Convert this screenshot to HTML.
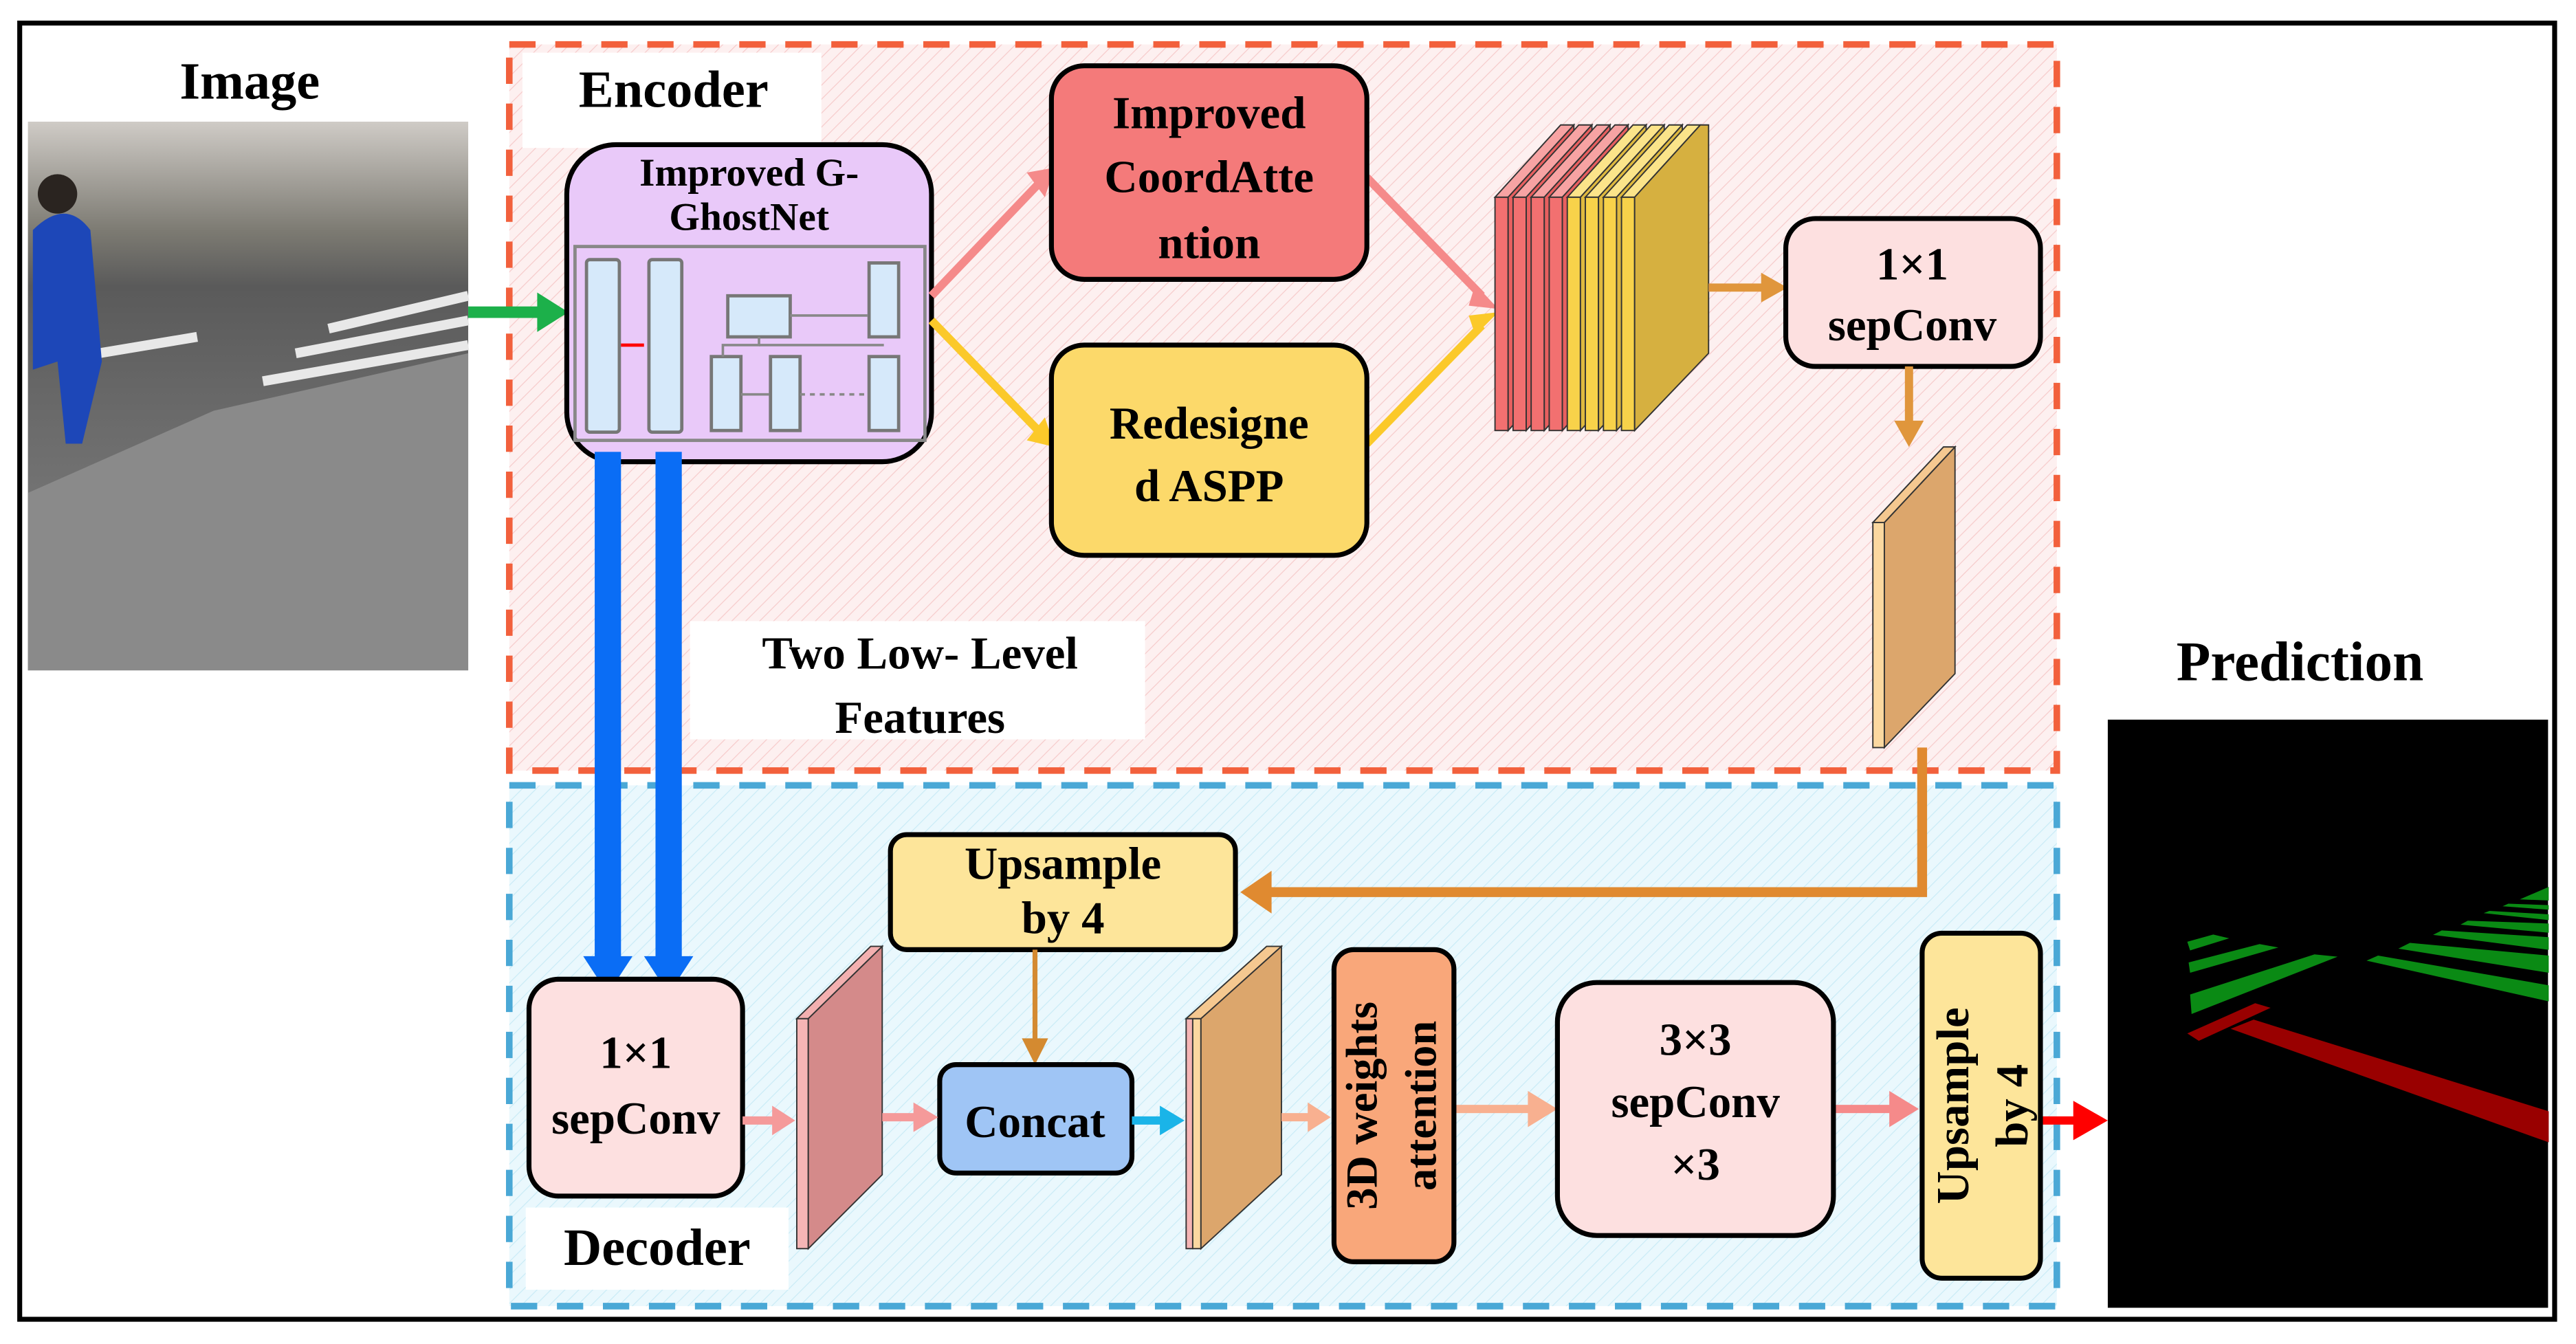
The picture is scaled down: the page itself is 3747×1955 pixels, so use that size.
<!DOCTYPE html>
<html><head><meta charset="utf-8"><style>html,body{margin:0;padding:0;background:#fff}svg{display:block}</style></head>
<body>
<svg width="3747" height="1955" viewBox="0 0 1568 818" xmlns="http://www.w3.org/2000/svg" font-family="'Liberation Serif',serif" font-weight="bold">
<defs>
<pattern id="hp" width="6" height="6" patternUnits="userSpaceOnUse" patternTransform="rotate(45)"><rect width="6" height="6" fill="#fdf0f0"/><line x1="0" y1="0" x2="0" y2="6" stroke="#f6caca" stroke-width="1"/></pattern>
<pattern id="hb" width="6" height="6" patternUnits="userSpaceOnUse" patternTransform="rotate(45)"><rect width="6" height="6" fill="#eaf8fd"/><line x1="0" y1="0" x2="0" y2="6" stroke="#c9ebf6" stroke-width="1"/></pattern>
<linearGradient id="ph" x1="0" y1="0" x2="0" y2="1"><stop offset="0" stop-color="#cfcbc6"/><stop offset="0.2" stop-color="#7c7a72"/><stop offset="0.3" stop-color="#5a5a5a"/><stop offset="0.55" stop-color="#6b6b6b"/><stop offset="1" stop-color="#858585"/></linearGradient>
</defs>
<rect x="12" y="14" width="1543" height="789" fill="#fff" stroke="#000" stroke-width="3"/>
<!-- photo -->
<rect x="17" y="74" width="268" height="334" fill="url(#ph)"/>
<polygon points="130,250 285,215 285,408 17,408 17,300" fill="#8a8a8a"/>
<g stroke="#e8e8e8" stroke-width="6"><line x1="200" y1="200" x2="285" y2="180"/><line x1="180" y1="215" x2="285" y2="195"/><line x1="160" y1="232" x2="285" y2="210"/><line x1="60" y1="215" x2="120" y2="205"/></g>
<path d="M20,140 Q40,120 55,140 L62,220 L50,270 L40,270 L35,220 L20,225 Z" fill="#1d47b8"/>
<circle cx="35" cy="118" r="12" fill="#2a2420"/>
<text x="152" y="60" font-size="32" text-anchor="middle">Image</text>
<!-- encoder -->
<rect x="310" y="27" width="942" height="442" fill="url(#hp)" stroke="#f2603c" stroke-width="4" stroke-dasharray="16,12"/>
<rect x="318" y="32" width="182" height="58" fill="#fff"/>
<text x="410" y="65" font-size="32" text-anchor="middle">Encoder</text>
<!-- decoder -->
<rect x="310" y="478" width="942" height="317" fill="url(#hb)" stroke="#4aa8d6" stroke-width="4" stroke-dasharray="16,12"/>
<rect x="320" y="735" width="160" height="50" fill="#fff"/>
<text x="400" y="770" font-size="32" text-anchor="middle">Decoder</text>
<rect x="420" y="378" width="277" height="72" fill="#fff"/>
<text x="560" y="407" font-size="28" text-anchor="middle">Two Low- Level</text>
<text x="560" y="446" font-size="28" text-anchor="middle">Features</text>
<!-- green arrow -->
<line x1="285" y1="190" x2="330" y2="190" stroke="#1cb04a" stroke-width="7"/>
<polygon points="327,178 346,190 327,202" fill="#1cb04a"/>
<!-- ghostnet -->
<rect x="345" y="88" width="222" height="193" rx="30" fill="#e9c9f9" stroke="#000" stroke-width="3"/>
<text x="456" y="113" font-size="24" text-anchor="middle">Improved G-</text>
<text x="456" y="140" font-size="24" text-anchor="middle">GhostNet</text>
<rect x="350" y="150" width="213" height="118" fill="none" stroke="#888" stroke-width="2"/>
<g fill="#d6e9fa" stroke="#777" stroke-width="2">
<rect x="357" y="158" width="20" height="105" rx="2"/><rect x="395" y="158" width="20" height="105" rx="2"/>
<rect x="443" y="180" width="38" height="25"/><rect x="529" y="160" width="18" height="45"/>
<rect x="433" y="217" width="18" height="45"/><rect x="469" y="217" width="18" height="45"/><rect x="529" y="217" width="18" height="45"/>
</g>
<g stroke="#888" stroke-width="1.5" fill="none"><line x1="481" y1="192" x2="528" y2="192"/><polyline points="462,205 462,210 440,210 440,217"/><line x1="462" y1="210" x2="538" y2="210"/><line x1="451" y1="240" x2="468" y2="240"/><line x1="487" y1="240" x2="528" y2="240" stroke-dasharray="3,3"/></g>
<line x1="378" y1="210" x2="392" y2="210" stroke="#f00" stroke-width="2"/>
<!-- blue arrows -->
<g fill="#0a6df5"><rect x="362" y="275" width="16" height="310"/><rect x="399" y="275" width="16" height="310"/>
<polygon points="355,582 385,582 370,605"/><polygon points="392,582 422,582 407,605"/></g>
<!-- branch arrows -->
<g stroke-width="5"><line x1="567" y1="180" x2="632" y2="112" stroke="#f58a8a"/><line x1="567" y1="195" x2="632" y2="262" stroke="#fbc92a"/>
<line x1="832" y1="108" x2="902" y2="180" stroke="#f58a8a"/><line x1="832" y1="270" x2="902" y2="198" stroke="#fbc92a"/></g>
<polygon points="625,105 642,102 636,120" fill="#f58a8a"/><polygon points="625,268 642,272 636,254" fill="#fbc92a"/>
<polygon points="898,173 912,188 894,186" fill="#f58a8a"/><polygon points="898,204 912,190 894,192" fill="#fbc92a"/>
<rect x="640" y="40" width="192" height="130" rx="20" fill="#f47a7a" stroke="#000" stroke-width="3"/>
<text x="736" y="78" font-size="28" text-anchor="middle">Improved</text>
<text x="736" y="117" font-size="28" text-anchor="middle">CoordAtte</text>
<text x="736" y="157" font-size="28" text-anchor="middle">ntion</text>
<rect x="640" y="210" width="192" height="128" rx="20" fill="#fcd96a" stroke="#000" stroke-width="3"/>
<text x="736" y="267" font-size="28" text-anchor="middle">Redesigne</text>
<text x="736" y="305" font-size="28" text-anchor="middle">d ASPP</text>
<!-- feature stack -->
<g stroke="#333" stroke-width="0.8">
<polygon points="910,120 950,76 958,76 918,120" fill="#f7a3a3"/><rect x="910" y="120" width="8" height="142" fill="#f27070"/><polygon points="918,120 958,76 958,218 918,262" fill="#e85f5f"/>
<polygon points="921,120 961,76 969,76 929,120" fill="#f7a3a3"/><rect x="921" y="120" width="8" height="142" fill="#f27070"/><polygon points="929,120 969,76 969,218 929,262" fill="#e85f5f"/>
<polygon points="932,120 972,76 980,76 940,120" fill="#f7a3a3"/><rect x="932" y="120" width="8" height="142" fill="#f27070"/><polygon points="940,120 980,76 980,218 940,262" fill="#e85f5f"/>
<polygon points="943,120 983,76 991,76 951,120" fill="#f7a3a3"/><rect x="943" y="120" width="8" height="142" fill="#f27070"/><polygon points="951,120 991,76 991,218 951,262" fill="#e85f5f"/>
<polygon points="954,120 994,76 1002,76 962,120" fill="#fbe48a"/><rect x="954" y="120" width="8" height="142" fill="#f8d24a"/><polygon points="962,120 1002,76 1002,218 962,262" fill="#dfb93f"/>
<polygon points="965,120 1005,76 1013,76 973,120" fill="#fbe48a"/><rect x="965" y="120" width="8" height="142" fill="#f8d24a"/><polygon points="973,120 1013,76 1013,218 973,262" fill="#dfb93f"/>
<polygon points="976,120 1016,76 1024,76 984,120" fill="#fbe48a"/><rect x="976" y="120" width="8" height="142" fill="#f8d24a"/><polygon points="984,120 1024,76 1024,218 984,262" fill="#dfb93f"/>
<polygon points="987,120 1027,76 1035,76 995,120" fill="#fbe48a"/><rect x="987" y="120" width="8" height="142" fill="#f8d24a"/><polygon points="995,120 1035,76 1040,76 1040,215 995,262" fill="#d6b040"/>
</g>
<line x1="1040" y1="175" x2="1075" y2="175" stroke="#e0963c" stroke-width="5"/><polygon points="1072,166 1088,175 1072,184" fill="#e0963c"/>
<rect x="1087" y="133" width="155" height="90" rx="18" fill="#fde0e0" stroke="#000" stroke-width="3"/>
<text x="1164" y="170" font-size="28" text-anchor="middle">1×1</text>
<text x="1164" y="207" font-size="28" text-anchor="middle">sepConv</text>
<line x1="1162" y1="223" x2="1162" y2="258" stroke="#e0963c" stroke-width="5"/><polygon points="1153,256 1171,256 1162,272" fill="#e0963c"/>
<g stroke="#333" stroke-width="0.8"><rect x="1140" y="318" width="7" height="137" fill="#fbd8a0"/><polygon points="1147,318 1190,272 1190,410 1147,455" fill="#dca66c"/><polygon points="1140,318 1183,272 1190,272 1147,318" fill="#f5c890"/></g>
<polyline points="1170,455 1170,543 772,543" fill="none" stroke="#e08a30" stroke-width="6"/>
<polygon points="774,530 755,543 774,556" fill="#e08a30"/>
<!-- decoder blocks -->
<rect x="542" y="508" width="210" height="70" rx="10" fill="#fde59a" stroke="#000" stroke-width="3"/>
<text x="647" y="535" font-size="28" text-anchor="middle">Upsample</text>
<text x="647" y="568" font-size="28" text-anchor="middle">by 4</text>
<line x1="630" y1="578" x2="630" y2="636" stroke="#d48a30" stroke-width="3"/><polygon points="622,632 638,632 630,648" fill="#d48a30"/>
<rect x="322" y="596" width="130" height="132" rx="18" fill="#fde0e0" stroke="#000" stroke-width="3"/>
<text x="387" y="650" font-size="28" text-anchor="middle">1×1</text>
<text x="387" y="690" font-size="28" text-anchor="middle">sepConv</text>
<g stroke="#333" stroke-width="0.8"><rect x="485" y="620" width="7" height="140" fill="#f5b5b5"/><polygon points="492,620 537,576 537,715 492,760" fill="#d48a8a"/><polygon points="485,620 530,576 537,576 492,620" fill="#f3b0b0"/></g>
<g stroke="#333" stroke-width="0.8"><rect x="722" y="620" width="4" height="140" fill="#f5b5b5"/><rect x="726" y="620" width="5" height="140" fill="#fbd8a0"/><polygon points="731,620 780,576 780,715 731,760" fill="#dca66c"/><polygon points="722,620 771,576 780,576 731,620" fill="#f5c890"/></g>
<rect x="572" y="648" width="117" height="66" rx="10" fill="#9fc5f5" stroke="#000" stroke-width="3"/>
<text x="630" y="692" font-size="28" text-anchor="middle">Concat</text>
<g stroke-width="5"><line x1="452" y1="682" x2="472" y2="682" stroke="#f59a9a"/><line x1="537" y1="680" x2="558" y2="680" stroke="#f59a9a"/><line x1="689" y1="682" x2="708" y2="682" stroke="#1ab4e8"/><line x1="780" y1="680" x2="798" y2="680" stroke="#f8b090"/><line x1="885" y1="675" x2="932" y2="675" stroke="#f8b090"/><line x1="1116" y1="675" x2="1152" y2="675" stroke="#f58a8a"/><line x1="1242" y1="682" x2="1265" y2="682" stroke="#f00"/></g>
<polygon points="470,673 484,682 470,691" fill="#f59a9a"/><polygon points="556,671 571,680 556,689" fill="#f59a9a"/><polygon points="706,673 721,682 706,691" fill="#1ab4e8"/><polygon points="796,671 810,680 796,689" fill="#f8b090"/><polygon points="930,664 948,675 930,686" fill="#f8b090"/><polygon points="1150,664 1168,675 1150,686" fill="#f58a8a"/><polygon points="1262,670 1283,682 1262,694" fill="#f00"/>
<rect x="812" y="578" width="73" height="190" rx="12" fill="#f9a77a" stroke="#000" stroke-width="3"/>
<text transform="translate(838,673) rotate(-90)" font-size="27" text-anchor="middle">3D weights</text>
<text transform="translate(874,673) rotate(-90)" font-size="27" text-anchor="middle">attention</text>
<rect x="948" y="598" width="168" height="154" rx="24" fill="#fde0e0" stroke="#000" stroke-width="3"/>
<text x="1032" y="642" font-size="28" text-anchor="middle">3×3</text>
<text x="1032" y="680" font-size="28" text-anchor="middle">sepConv</text>
<text x="1032" y="718" font-size="28" text-anchor="middle">×3</text>
<rect x="1170" y="568" width="72" height="210" rx="12" fill="#fde59a" stroke="#000" stroke-width="3"/>
<text transform="translate(1198,673) rotate(-90)" font-size="28" text-anchor="middle">Upsample</text>
<text transform="translate(1234,673) rotate(-90)" font-size="28" text-anchor="middle">by 4</text>
<!-- prediction -->
<text x="1400" y="414" font-size="34" text-anchor="middle">Prediction</text>
<rect x="1283" y="438" width="268" height="358" fill="#000"/>
<g fill="#0a8a14">
<polygon points="1331.4,573.2 1347.2,568.8 1356.9,571.1 1333.1,578.5"/>
<polygon points="1332.2,585.8 1375.4,574.6 1386.8,576.7 1333.1,592.1"/>
<polygon points="1333.1,605.3 1408.8,580.9 1422.9,582.3 1334,617.2"/>
<polygon points="1440.5,584.7 1447.5,581.6 1551.4,599.7 1551.4,609.5"/>
<polygon points="1459.9,577.4 1466.9,573.9 1551.4,581.6 1551.4,592.1"/>
<polygon points="1481,569 1486.3,566.3 1551.4,570.4 1551.4,578.1"/>
<polygon points="1497.7,562.8 1502.1,560.4 1551.4,562.1 1551.4,567.7"/>
<polygon points="1511.8,555.8 1515.3,554.4 1551.4,556.5 1551.4,560"/>
<polygon points="1523.3,551.6 1526.8,550 1551.4,550.9 1551.4,553.7"/>
<polygon points="1533.8,547.4 1551.4,539.8 1551.4,548.1"/>
</g>
<g fill="#990000">
<polygon points="1331.4,629 1372.7,610.6 1382.1,613.4 1338.4,633.5"/>
<polygon points="1371.8,620.6 1551.4,676.4 1551.4,695.3 1357.8,626.2"/>
</g>
</svg>
</body></html>
